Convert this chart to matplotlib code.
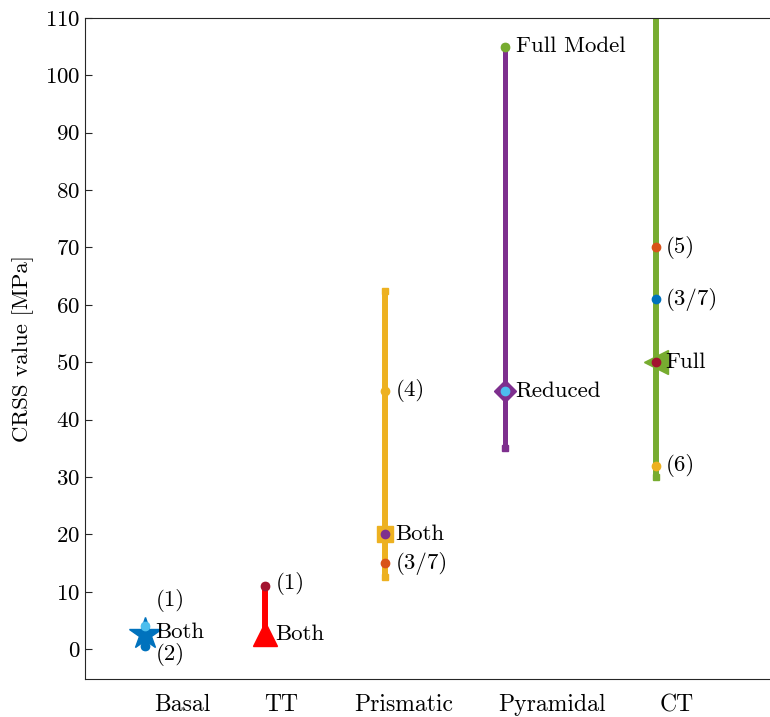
import matplotlib
matplotlib.use("Agg")
import matplotlib.pyplot as plt

plt.rcParams['font.family'] = ['cmr10', 'DejaVu Serif']
plt.rcParams['mathtext.fontset'] = 'cm'
plt.rcParams['axes.formatter.use_mathtext'] = True

# MATLAB default colours
BLUE = '#0072BD'
ORANGE = '#D95319'
YELLOW = '#EDB120'
PURPLE = '#7E2F8E'
GREEN = '#77AC30'
LIGHTBLUE = '#4DBEEE'
DARKRED = '#A2142F'
RED = '#FF0000'

# === DATI ===
systems = ['Basal', 'TT', 'Prismatic', 'Pyramidal', 'CT']
xpos = [1, 2, 3, 4, 5.25]

# range [min, max] of CRSS per system (MPa)
ranges = [[0.5, 4], [2.7, 11], [12.5, 62.5], [35, 105], [30, 130]]
range_colors = [BLUE, RED, YELLOW, PURPLE, GREEN]

# fitted values: (system index, value, marker, marker size, colour)
fits = [
    (0, 2.7, '*', 24, BLUE),
    (1, 2.7, '^', 17, RED),
    (2, 20, 's', 11, YELLOW),
    (3, 45, 'D', 11, PURPLE),
    (4, 50, '<', 17, GREEN),
]

# literature / model points: (system index, value, colour, label, label y)
points = [
    (0, 4, LIGHTBLUE, '(1)', 8.5),
    (0, 0.5, BLUE, '(2)', -1.0),
    (0, 2.7, None, 'Both', 3.0),
    (1, 11, DARKRED, '(1)', 11.5),
    (1, 2.7, None, 'Both', 2.6),
    (2, 45, YELLOW, '(4)', 45),
    (2, 20, PURPLE, 'Both', 20),
    (2, 15, ORANGE, '(3/7)', 15),
    (3, 105, GREEN, 'Full Model', 105),
    (3, 45, LIGHTBLUE, 'Reduced', 45),
    (4, 70, ORANGE, '(5)', 70),
    (4, 61, BLUE, '(3/7)', 61),
    (4, 50, DARKRED, 'Full', 50),
    (4, 32, YELLOW, '(6)', 32),
]

# === GRAFICO ===
fig = plt.figure(figsize=(7.7, 7.17), dpi=100)
ax = fig.add_axes([0.1104, 0.053, 0.9, 0.922])

for i, (lo, hi) in enumerate(ranges):
    c = range_colors[i]
    ax.plot([xpos[i], xpos[i]], [lo, hi], color=c, lw=4.3 if i != 3 else 3.6,
            solid_capstyle='butt', zorder=2)
    ax.plot([xpos[i], xpos[i]], [lo, hi], 's', color=c, ms=5, zorder=2)

for i, v, m, ms, c in fits:
    ax.plot(xpos[i], v, m, color=c, ms=ms, mec=c, zorder=3)

for i, v, c, lab, ly in points:
    if c is not None:
        ax.plot(xpos[i], v, 'o', color=c, ms=6, zorder=4)
    ax.text(xpos[i] + 0.085, ly, lab, fontsize=16.5, va='center', ha='left', zorder=5)

ax.set_xlim(0.5, 6.27)
ax.set_ylim(-5.2, 110)
ax.set_yticks(range(0, 111, 10))
ax.set_xticks([1.31, 2.13, 3.15, 4.39, 5.43])
ax.set_xticklabels(systems)
ax.tick_params(axis='x', length=0, pad=11, labelsize=17)
ax.tick_params(axis='y', direction='in', length=5, labelsize=16.5, color='#262626')
ax.set_ylabel('CRSS value [MPa]', fontsize=16.5, labelpad=8)
for s in ax.spines.values():
    s.set_color('#262626')
    s.set_linewidth(0.8)
ax.spines['right'].set_visible(False)

plt.savefig('out.png', dpi=100)
